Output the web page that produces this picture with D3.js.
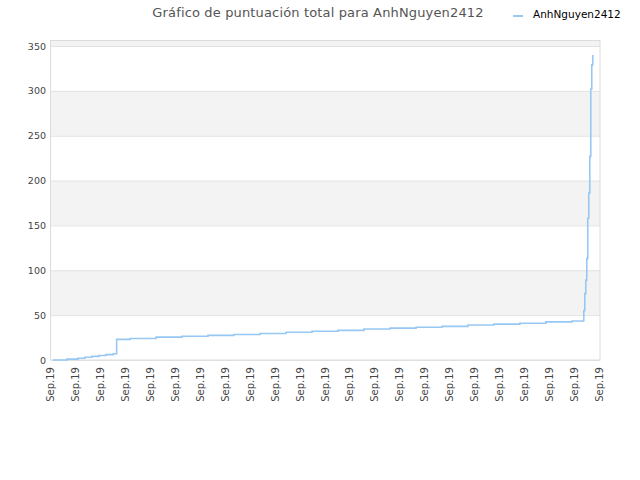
<!DOCTYPE html>
<html>
<head>
<meta charset="utf-8">
<script src="https://cdn.jsdelivr.net/npm/d3@7"></script>
<style>
  body { margin: 0; background: #fff; }
  text { font-family: "DejaVu Sans", sans-serif; }
</style>
</head>
<body>
<div id="graph"></div>
<script>
var width = 640;
var height = 480;
var margin = { top: 40, right: 40, bottom: 120, left: 51 };

// x in tick units (one tick per "Sep.19" label), y = total score
var timeSteps = [0.08, 0.64, 1.08, 1.35, 1.64, 1.92, 2.20, 2.50, 2.63, 3.17, 4.21, 5.25, 6.29, 7.33,
  8.38, 9.42, 10.46, 11.50, 12.54, 13.59, 14.63, 15.67, 16.71, 17.75, 18.79, 19.83, 20.88,
  21.35, 21.39, 21.43, 21.47, 21.51, 21.55, 21.59, 21.63, 21.67, 21.71];
var scores = [0, 1, 2, 3, 4, 5, 6, 7, 23, 24, 25.5, 26.5, 27.5, 28.5, 29.5, 31, 32, 33, 34.5, 35.5,
  36.5, 37.5, 39, 40, 41, 42.5, 43.5, 55, 74, 89, 113, 158, 186, 227, 302, 329, 340];
var xTickLabels = d3.range(23).map(function () { return "Sep.19"; });
var yTicks = [0, 50, 100, 150, 200, 250, 300, 350];
var seriesName = "AnhNguyen2412";
var chartTitle = "Gráfico de puntuación total para AnhNguyen2412";

var lineColor = "#97c7f3";

var svg = d3.select("#graph").append("svg")
  .attr("width", width)
  .attr("height", height);

var xScale = d3.scaleLinear().domain([0, 22]).range([margin.left - 1, width - margin.right - 1]);
var yScale = d3.scaleLinear().domain([0, 356.7]).range([height - margin.bottom, margin.top]);

// alternating bands
var bands = d3.range(0, 400, 50);
svg.append("g").selectAll("rect")
  .data(bands)
  .enter()
  .append("rect")
  .attr("x", margin.left)
  .attr("width", width - margin.right - margin.left)
  .attr("y", function (d) { return yScale(Math.min(d + 50, 356.7)); })
  .attr("height", function (d) { return yScale(d) - yScale(Math.min(d + 50, 356.7)); })
  .attr("fill", function (d, i) { return i % 2 ? "#f3f3f3" : "#ffffff"; });

// grid lines
svg.append("g")
  .attr("transform", "translate(" + margin.left + ",0)")
  .call(d3.axisLeft(yScale).tickValues(yTicks).tickSize(-(width - margin.right - margin.left)).tickFormat(""))
  .call(function (g) { g.select(".domain").remove(); })
  .selectAll("line")
  .attr("stroke", "#e2e2e2");

// frame
svg.append("rect")
  .attr("x", margin.left - 0.5)
  .attr("y", margin.top + 0.5)
  .attr("width", width - margin.right - margin.left + 0.5)
  .attr("height", height - margin.bottom - margin.top - 0.5)
  .attr("fill", "none")
  .attr("stroke", "#dcdcdc");

// y labels
var yAxis = svg.append("g")
  .attr("transform", "translate(" + margin.left + ",0)")
  .call(d3.axisLeft(yScale).tickValues(yTicks).tickSize(0).tickPadding(5));
yAxis.select(".domain").remove();
yAxis.selectAll("text")
  .attr("font-family", "DejaVu Sans")
  .attr("font-size", "9.5px")
  .attr("fill", "#444");

// x labels
var xAxis = svg.append("g")
  .attr("transform", "translate(0," + (height - margin.bottom) + ")")
  .call(d3.axisBottom(xScale).tickValues(d3.range(23)).tickSize(0)
    .tickFormat(function (d, i) { return xTickLabels[i]; }));
xAxis.select(".domain").remove();
xAxis.selectAll("text")
  .attr("font-family", "DejaVu Sans")
  .attr("font-size", "10px")
  .attr("fill", "#444")
  .attr("text-anchor", "end")
  .attr("transform", "rotate(-90)")
  .attr("x", -7)
  .attr("y", 0)
  .attr("dy", "0.35em");

// the score line
var line = d3.line()
  .x(function (d, i) { return xScale(timeSteps[i]) + 1; })
  .y(function (d) { return yScale(d); })
  .curve(d3.curveStepAfter);

svg.append("path")
  .datum(scores)
  .attr("d", line)
  .attr("fill", "none")
  .attr("stroke", lineColor)
  .attr("stroke-width", 1.6);

// title
svg.append("text")
  .attr("x", 318)
  .attr("y", 17)
  .attr("text-anchor", "middle")
  .attr("font-size", "13px")
  .attr("letter-spacing", "0.15px")
  .attr("fill", "#555")
  .text(chartTitle);

// legend
svg.append("line")
  .attr("x1", 513).attr("x2", 523)
  .attr("y1", 16).attr("y2", 16)
  .attr("stroke", lineColor)
  .attr("stroke-width", 2);
svg.append("text")
  .attr("x", 533)
  .attr("y", 18)
  .attr("font-size", "10.5px")
  .attr("fill", "#000")
  .text(seriesName);
</script>
</body>
</html>
